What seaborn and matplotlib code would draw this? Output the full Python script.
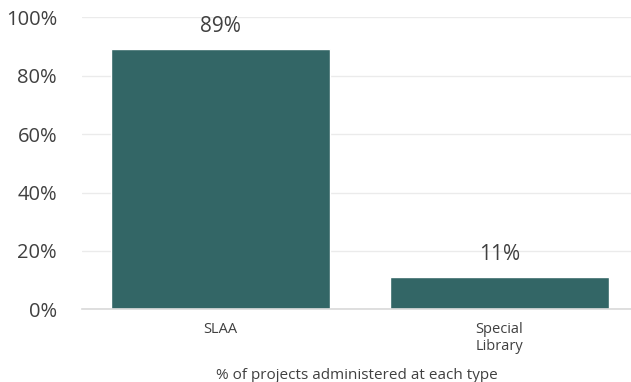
import pandas as pd
import matplotlib.pyplot as plt
import seaborn as sns
from matplotlib.ticker import PercentFormatter

# Data
types = ['SLAA', 'Special\nLibrary']
share = [89, 11]

df = pd.DataFrame({'Type': types, 'Share': share})

sns.set_theme(style='white')
plt.rcParams['font.family'] = ['Open Sans', 'DejaVu Sans']

text_col = '#404040'
bar_col = '#336666'

fig, ax = plt.subplots(figsize=(6.31, 3.82), dpi=100)
fig.subplots_adjust(left=0.13, right=1.0, top=0.955, bottom=0.19)

sns.barplot(data=df, x='Type', y='Share', color=bar_col, width=0.785,
            saturation=1, ax=ax)

# value labels
for i, v in enumerate(share):
    ax.annotate(f'{v}%', (i, v), xytext=(0, 9), textcoords='offset points',
                ha='center', va='bottom', fontsize=15, color=text_col)

ax.set_ylim(0, 100)
ax.set_xlim(-0.496, 1.471)
ax.set_yticks(range(0, 101, 20))
ax.yaxis.set_major_formatter(PercentFormatter(decimals=0))
ax.grid(axis='y', color='#ebebeb', linewidth=1)
ax.set_axisbelow(True)

for s in ['top', 'right', 'left']:
    ax.spines[s].set_visible(False)
ax.spines['bottom'].set_color('#d9d9d9')
ax.spines['bottom'].set_linewidth(1.2)

ax.tick_params(axis='y', labelsize=14.5, colors=text_col, length=0, pad=18)
ax.tick_params(axis='x', labelsize=10.5, colors=text_col, length=0, pad=9)
ax.set_ylabel('')
ax.set_xlabel('% of projects administered at each type', fontsize=11,
              color=text_col, labelpad=10)

plt.savefig('out.png', dpi=100)
